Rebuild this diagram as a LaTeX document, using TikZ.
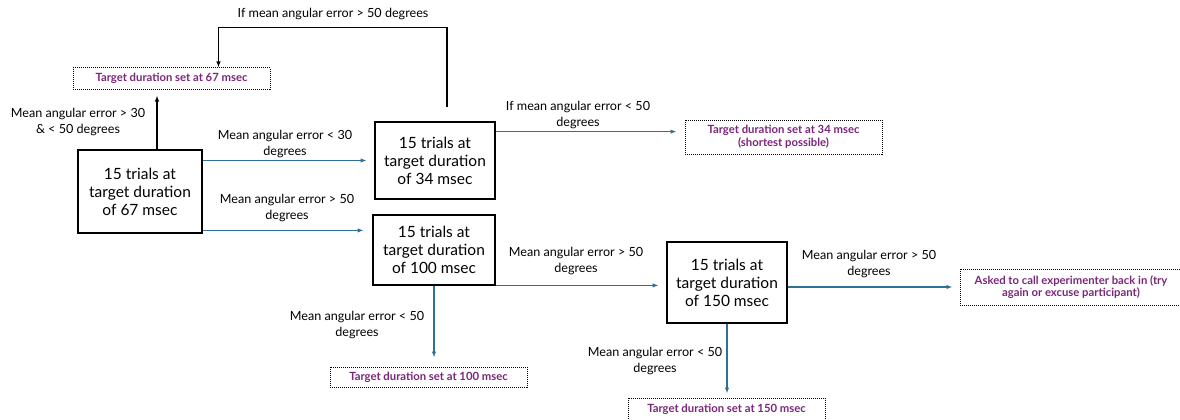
\documentclass[tikz,border=0pt]{standalone}
\usepackage{fontspec}
\setmainfont{Lato}
\usetikzlibrary{positioning,calc,arrows.meta}
\definecolor{flecheb}{RGB}{46,112,150}
\definecolor{violet}{RGB}{122,38,122}
\tikzset{
  essai/.style={draw,line width=2.8pt,align=center,font=\fontsize{15.5}{18}\selectfont,inner sep=2pt},
  cible/.style={draw,densely dotted,line width=1pt,align=center,text=violet,font=\bfseries\fontsize{11.3}{12.8}\selectfont,inner sep=2pt},
  lbl/.style={align=center,font=\fontsize{12.6}{15.5}\selectfont,inner sep=0pt},
  fl/.style={-{Latex[length=6pt,width=4.5pt]},line width=1.6pt,flecheb},
  fln/.style={-{Latex[length=6pt,width=4.5pt]},line width=1.3pt,black}
}
\begin{document}
\begin{tikzpicture}[x=1pt,y=-1pt]

% Cadre
\useasboundingbox (0,0) rectangle (1180,420);

% Essais
\node[essai,minimum width=124,minimum height=83] (e67) at (140,191.5) {15 trials at\\target duration\\of 67 msec};
\node[essai,minimum width=120,minimum height=77] (e34) at (435,160.5) {15 trials at\\target duration\\of 34 msec};
\node[essai,minimum width=122,minimum height=70] (e100) at (434,250) {15 trials at\\target duration\\of 100 msec};
\node[essai,minimum width=120,minimum height=81] (e150) at (727,282.5) {15 trials at\\target duration\\of 150 msec};

% Cibles
\node[cible,minimum width=197,minimum height=21] (c67) at (171.5,78.5) {Target duration set at 67 msec};
\node[cible,minimum width=197,minimum height=34] (c34) at (783.5,137) {Target duration set at 34 msec\\(shortest possible)};
\node[cible,minimum width=197,minimum height=20] (c100) at (428.5,377) {Target duration set at 100 msec};
\node[cible,minimum width=197,minimum height=22] (c150) at (726.5,409) {Target duration set at 150 msec};
\node[cible,minimum width=222,minimum height=36] (fin) at (1071,287) {Asked to call experimenter back in (try\\again or excuse participant)};

% Etiquettes
\node[lbl] (l0) at (333,14) {If mean angular error > 50 degrees};
\node[lbl] (l1) at (78,122) {Mean angular error > 30\\\& < 50 degrees};
\node[lbl] (l2) at (285,144) {Mean angular error < 30\\degrees};
\node[lbl] (l3) at (287,208) {Mean angular error > 50\\degrees};
\node[lbl] (l4) at (578,115) {If mean angular error < 50\\degrees};
\node[lbl] (l5) at (576,261) {Mean angular error > 50\\degrees};
\node[lbl] (l6) at (357,325) {Mean angular error < 50\\degrees};
\node[lbl] (l7) at (869,264) {Mean angular error > 50\\degrees};
\node[lbl] (l8) at (655,361) {Mean angular error < 50\\degrees};

% Boucle
\coordinate (b0) at ($(e34.north)+(12,-14)$);
\draw[fln] (b0) -- ++(0,-79) -| ($(c67.north)+(47,0)$);

% Fleches
\draw[fln,shorten >=6pt] ($(e67.north)+(17,0)$) -- ($(c67.south)+(-14.5,0)$);
\draw[fl,shorten >=7pt] (e67.east |- e34) -- (e34);
\draw[fl,shorten >=8pt] ($(e67.south east)+(0,-4)$) -- ($(e67.south east -| e100.west)+(0,-4)$);
\draw[fl,shorten >=8pt] ($(e34.north east)+(0,11)$) -- ($(e34.north east -| c34.west)+(0,11)$);
\draw[fl,shorten >=7pt] ($(e100.south east)+(0,-1)$) -- ($(e100.south east -| e150.west)+(0,-1)$);
\draw[fl,shorten >=7pt] (e150.east |- fin) -- (fin.west);
\draw[fl,shorten >=9pt] (e100.south) -- (e100.south |- c100.north);
\draw[fl,shorten >=4pt] (e150.south) -- (e150.south |- c150.north);

\end{tikzpicture}
\end{document}
